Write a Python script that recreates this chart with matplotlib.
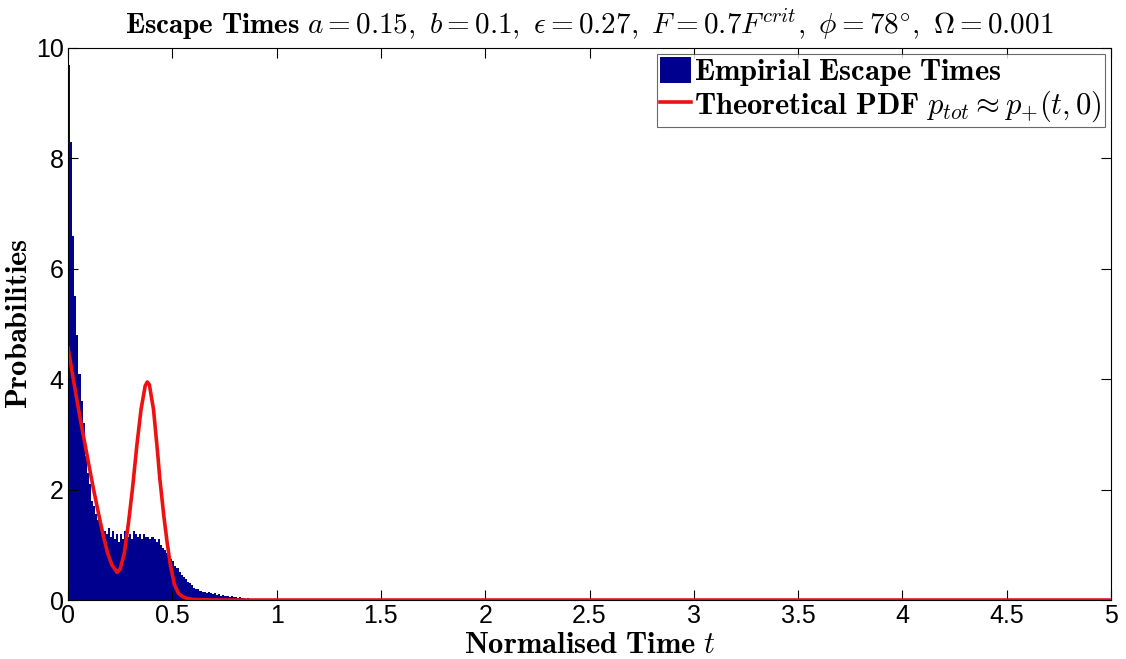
import matplotlib.pyplot as plt
import numpy as np

plt.rcParams["mathtext.fontset"] = "cm"

# empirical escape-time histogram (bin width 0.01, left edges)
bin_width = 0.01
hist_values = [
    9.7, 8.3, 6.6, 5.5, 4.8, 4.1, 3.6, 3.2, 2.6, 2.3,
    2.1, 1.8, 1.7, 1.55, 1.45, 1.4, 1.3, 1.25, 1.2, 1.3,
    1.15, 1.25, 1.1, 1.2, 1.05, 1.2, 1.1, 1.25, 1.15, 1.2,
    1.1, 1.25, 1.2, 1.15, 1.2, 1.1, 1.2, 1.15, 1.15, 1.1,
    1.15, 1.1, 1.05, 1.1, 1.0, 0.95, 0.9, 0.85, 0.8, 0.75,
    0.7, 0.62, 0.58, 0.5, 0.45, 0.42, 0.38, 0.32, 0.3, 0.27,
    0.22, 0.2, 0.2, 0.17, 0.15, 0.15, 0.13, 0.14, 0.12, 0.1,
    0.12, 0.09, 0.1, 0.08, 0.09, 0.07, 0.08, 0.06, 0.07, 0.05,
    0.06, 0.04, 0.05, 0.03, 0.04, 0.02, 0.03, 0.01,
]
bin_edges = np.arange(len(hist_values)) * bin_width

# theoretical pdf
pdf_t = [0.0, 0.03, 0.06, 0.09, 0.12, 0.15, 0.17, 0.19, 0.21, 0.235,
         0.25, 0.27, 0.29, 0.31, 0.33, 0.35, 0.37, 0.38, 0.39, 0.41,
         0.43, 0.44, 0.46, 0.475, 0.49, 0.51, 0.53, 0.55, 0.57, 0.60,
         0.70, 5.0]
pdf_p = [4.57, 3.9, 3.25, 2.65, 2.05, 1.5, 1.15, 0.85, 0.64, 0.5,
         0.56, 0.85, 1.4, 2.05, 2.8, 3.45, 3.88, 3.95, 3.9, 3.45,
         2.65, 2.2, 1.5, 1.05, 0.65, 0.28, 0.12, 0.06, 0.03, 0.01,
         0.0, 0.0]

xticks = np.arange(0, 5.01, 0.5)
xtick_labels = ["0", "0.5", "1", "1.5", "2", "2.5", "3", "3.5", "4", "4.5", "5"]
yticks = [0, 2, 4, 6, 8, 10]

fig = plt.figure(figsize=(11.26, 6.59), dpi=100)
ax = fig.add_axes([0.0604, 0.0895, 0.9263, 0.8377])

bars = ax.bar(bin_edges, hist_values, width=bin_width, align="edge",
              color="#00008F", linewidth=0)
line, = ax.plot(pdf_t, pdf_p, color="#EE1111", lw=2.6)

ax.set_xlim(0, 5)
ax.set_ylim(0, 10)
ax.set_xticks(xticks)
ax.set_xticklabels(xtick_labels)
ax.set_yticks(yticks)
ax.tick_params(direction="in", top=True, right=True, length=7, width=0.8,
               labelsize=18, pad=3)
for lab in ax.get_xticklabels() + ax.get_yticklabels():
    lab.set_family(["Liberation Sans", "DejaVu Sans"])

ax.set_xlabel(r"$\mathbf{Normalised\ Time}\ t$", fontsize=22, labelpad=1)
ax.set_ylabel(r"$\mathbf{Probabilities}$", fontsize=22, labelpad=2)
ax.set_title(r"$\mathbf{Escape\ Times}\ a=0.15,\ b=0.1,\ \epsilon=0.27,\ "
             r"F=0.7F^{crit},\ \phi=78^{\circ},\ \Omega=0.001$",
             fontsize=21, pad=10)

leg = ax.legend([bars, line],
                [r"$\mathbf{Empirial\ Escape\ Times}$",
                 r"$\mathbf{Theoretical\ PDF}\ p_{tot}\approx p_{+}(t,0)$"],
                loc="upper right", fontsize=22, frameon=True, fancybox=False,
                handlelength=1.0, handleheight=0.9, handletextpad=0.1,
                borderpad=0.1, labelspacing=0.0, borderaxespad=0.2)
leg.get_frame().set_edgecolor("#444444")
leg.get_frame().set_linewidth(0.8)

fig.savefig("out.png", dpi=100)
